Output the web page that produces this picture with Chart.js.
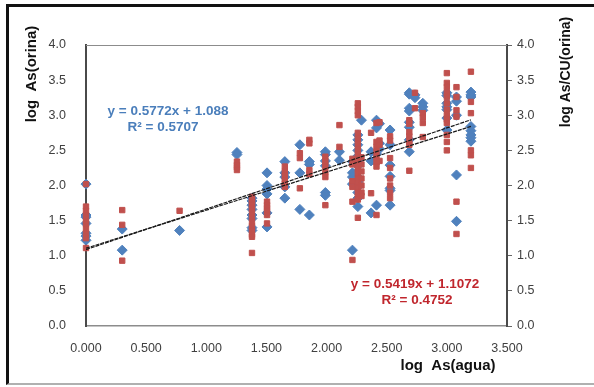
<!DOCTYPE html>
<html>
<head>
<meta charset="utf-8">
<script src="https://cdn.jsdelivr.net/npm/chart.js@4.4.1/dist/chart.umd.min.js"></script>
<style>
  html, body { margin: 0; padding: 0; background: #fff; }
  #wrap { position: relative; width: 594px; height: 387px; }
  #frame {
    position: absolute; left: 6px; top: 4px; right: -4px; bottom: 2px;
    border-top: 3px solid #111; border-left: 3px solid #111; border-bottom: 2px solid #b0b0b0;
  }
  canvas { position: absolute; left: 0; top: 0; }
</style>
</head>
<body>
<div id="wrap">
  <div id="frame"></div>
  <canvas id="c" width="594" height="387"></canvas>
</div>
<script>
// log As(agua) columns (x) and the readings sitting on each column
const columnX = [0.000, 0.301, 0.778, 1.255, 1.380, 1.505, 1.653, 1.778, 1.857, 1.990, 2.107, 2.215,
  2.260, 2.290, 2.370, 2.415, 2.440, 2.528, 2.688, 2.735, 2.800, 3.000, 3.080, 3.200];

// log As(orina) — blue diamonds
const blueByColumn = [
  [2.02, 1.58, 1.55, 1.46, 1.32, 1.28, 1.22],
  [1.38, 1.08],
  [1.36],
  [2.47, 2.44],
  [1.82, 1.78, 1.72, 1.66, 1.58, 1.53, 1.40, 1.36],
  [2.18, 2.00, 1.95, 1.88, 1.61, 1.41],
  [2.34, 2.18, 2.12, 1.98, 1.82],
  [2.58, 2.18, 1.66],
  [2.34, 2.30, 1.58],
  [2.48, 2.44, 2.35, 2.28, 1.90, 1.86],
  [2.48, 2.36],
  [2.34, 2.18, 2.12, 2.02, 1.08],
  [2.72, 2.65, 2.58, 2.50, 2.42, 2.35, 2.28, 2.20, 2.12, 2.05, 1.98, 1.90, 1.82, 1.70],
  [2.93],
  [2.48, 2.35, 1.61],
  [2.93, 2.82, 2.45, 1.72],
  [2.88, 2.60, 2.52],
  [2.79, 2.58, 2.29, 2.13, 1.96, 1.93, 1.72],
  [3.32, 3.30, 3.10, 3.06, 2.90, 2.83, 2.65, 2.48],
  [3.29, 3.25],
  [3.17, 3.12, 3.07],
  [3.32, 3.28, 3.17, 3.12, 3.08, 2.96, 2.79],
  [3.26, 3.20, 3.00, 2.15, 1.49],
  [3.33, 3.29, 3.26, 2.84, 2.78, 2.72, 2.68, 2.63],
];

// log As/CU(orina) — red squares
const redByColumn = [
  [2.02, 1.70, 1.64, 1.58, 1.50, 1.45, 1.38, 1.32, 1.25, 1.11],
  [1.65, 1.44, 0.93],
  [1.64],
  [2.34, 2.29, 2.26, 2.22],
  [1.84, 1.80, 1.76, 1.72, 1.68, 1.62, 1.55, 1.48, 1.42, 1.36, 1.30, 1.27, 1.04],
  [1.77, 1.72, 1.68, 1.64, 1.58, 1.46],
  [2.27, 2.20, 2.14, 2.08, 2.03, 1.98],
  [2.46, 2.39, 1.96],
  [2.65, 2.60, 2.22, 2.16],
  [2.41, 2.34, 2.27, 2.19, 2.12, 1.72],
  [2.86, 2.55],
  [2.38, 2.30, 2.06, 1.98, 1.77, 0.94],
  [3.17, 3.12, 3.06, 3.00, 2.75, 2.68, 2.60, 2.52, 2.45, 2.38, 2.30, 2.24, 2.17, 2.10, 2.04, 1.97, 1.90, 1.84, 1.80, 1.54],
  [2.40, 2.30, 2.20, 2.10, 2.00, 1.90, 1.85],
  [2.75, 1.89],
  [2.89, 2.62, 2.55, 2.48, 2.40, 2.33, 2.27, 1.58],
  [2.90, 2.64, 2.58, 2.35],
  [2.70, 2.64, 2.39, 2.25, 2.10, 2.00, 1.90, 1.82],
  [2.93, 2.88, 2.76, 2.70, 2.62, 2.58, 2.21],
  [3.32, 3.10],
  [3.03, 2.97, 2.89, 2.69],
  [3.60, 3.46, 3.40, 3.32, 3.26, 3.17, 3.08, 3.00, 2.94, 2.89, 2.72, 2.62, 2.50],
  [3.40, 3.26, 3.07, 2.98, 1.77, 1.31],
  [3.62, 3.19, 3.03, 2.50, 2.43, 2.25],
];

// trend line ends as drawn
const trendX = [0, 3.2];
const blueTrendY = [1.088, 2.935];
const redTrendY = [1.107, 2.841];

const blueEq = ['y = 0.5772x + 1.088', 'R² = 0.5707'];
const redEq = ['y = 0.5419x + 1.1072', 'R² = 0.4752'];

const BLUE = '#4F81BD';
const RED = '#C0504D';

function toPoints(cols) {
  const pts = [];
  cols.forEach((ys, i) => ys.forEach(y => pts.push({ x: columnX[i], y })));
  return pts;
}

const textPlugin = {
  id: 'texts',
  beforeDatasetsDraw(chart) {
    const { ctx, chartArea: a } = chart;
    ctx.save();
    ctx.strokeStyle = '#8c8c8c';
    ctx.lineWidth = 1;
    ctx.beginPath();
    ctx.moveTo(a.left, a.top + 0.5);
    ctx.lineTo(a.right, a.top + 0.5);
    ctx.stroke();
    ctx.restore();
  },
  afterDraw(chart) {
    const ctx = chart.ctx;
    ctx.save();
    ctx.fillStyle = '#111';
    ctx.textAlign = 'center';
    ctx.textBaseline = 'middle';
    ctx.font = 'bold 15px Arial, "Liberation Sans", sans-serif';
    ctx.fillText('log  As(agua)', 448, 366);
    ctx.save();
    ctx.translate(32, 74);
    ctx.rotate(-Math.PI / 2);
    ctx.fillText('log  As(orina)', 0, 0);
    ctx.restore();
    ctx.save();
    ctx.font = 'bold 14px Arial, "Liberation Sans", sans-serif';
    ctx.translate(566, 72);
    ctx.rotate(-Math.PI / 2);
    ctx.fillText('log As/CU(orina)', 0, 0);
    ctx.restore();

    ctx.textBaseline = 'alphabetic';
    ctx.font = 'bold 13.5px Arial, "Liberation Sans", sans-serif';
    ctx.fillStyle = '#4A7EBB';
    ctx.fillText(blueEq[0], 168, 115);
    ctx.fillText(blueEq[1], 163, 131);
    ctx.fillStyle = '#C0262D';
    ctx.fillText(redEq[0], 415, 288);
    ctx.fillText(redEq[1], 417, 304);
    ctx.restore();
  },
};

const tickFont = { family: 'Arial, "Liberation Sans", sans-serif', size: 12.5 };

new Chart(document.getElementById('c'), {
  type: 'scatter',
  data: {
    datasets: [
      {
        label: 'tendencia As(orina)',
        data: trendX.map((x, i) => ({ x, y: blueTrendY[i] })),
        showLine: true,
        borderColor: '#1a1a1a',
        borderWidth: 1.2,
        borderDash: [4, 1],
        pointRadius: 0,
        yAxisID: 'y',
        order: 0,
      },
      {
        label: 'tendencia As/CU(orina)',
        data: trendX.map((x, i) => ({ x, y: redTrendY[i] })),
        showLine: true,
        borderColor: '#1a1a1a',
        borderWidth: 1.2,
        borderDash: [4, 1],
        pointRadius: 0,
        yAxisID: 'y2',
        order: 0,
      },
      {
        label: 'log As/CU(orina)',
        data: toPoints(redByColumn),
        pointStyle: 'rect',
        pointRadius: 3.8,
        backgroundColor: RED,
        borderColor: RED,
        borderWidth: 1,
        yAxisID: 'y2',
        clip: false,
        order: 1,
      },
      {
        label: 'log As(orina)',
        data: toPoints(blueByColumn),
        pointStyle: 'rectRot',
        pointRadius: 5,
        backgroundColor: BLUE,
        borderColor: BLUE,
        borderWidth: 1,
        yAxisID: 'y',
        clip: false,
        order: 2,
      },
    ],
  },
  options: {
    responsive: false,
    animation: false,
    events: [],
    layout: { padding: { top: 45, left: 0, right: 0, bottom: 0 } },
    plugins: { legend: { display: false }, tooltip: { enabled: false } },
    scales: {
      x: {
        type: 'linear',
        min: 0, max: 3.5,
        afterFit: s => { s.height = 61; },
        ticks: { stepSize: 0.5, color: '#404040', font: tickFont, padding: 7, maxRotation: 0,
          callback: v => Number(v).toFixed(3) },
        grid: { display: false },
        border: { display: true, color: '#8c8c8c', width: 1.5 },
      },
      y: {
        position: 'left',
        min: 0, max: 4,
        afterFit: s => { s.width = 86; },
        ticks: { stepSize: 0.5, color: '#404040', font: tickFont, padding: 12,
          callback: v => Number(v).toFixed(1) },
        grid: { display: false },
        border: { display: true, color: '#4a4a4a', width: 2 },
      },
      y2: {
        position: 'right',
        min: 0, max: 4,
        afterFit: s => { s.width = 87; },
        ticks: { stepSize: 0.5, color: '#404040', font: tickFont, padding: 5,
          callback: v => Number(v).toFixed(1) },
        grid: { display: true, drawOnChartArea: false, drawTicks: true, tickLength: 5, color: '#666' },
        border: { display: true, color: '#4a4a4a', width: 2 },
      },
    },
  },
  plugins: [textPlugin],
});
</script>
</body>
</html>
